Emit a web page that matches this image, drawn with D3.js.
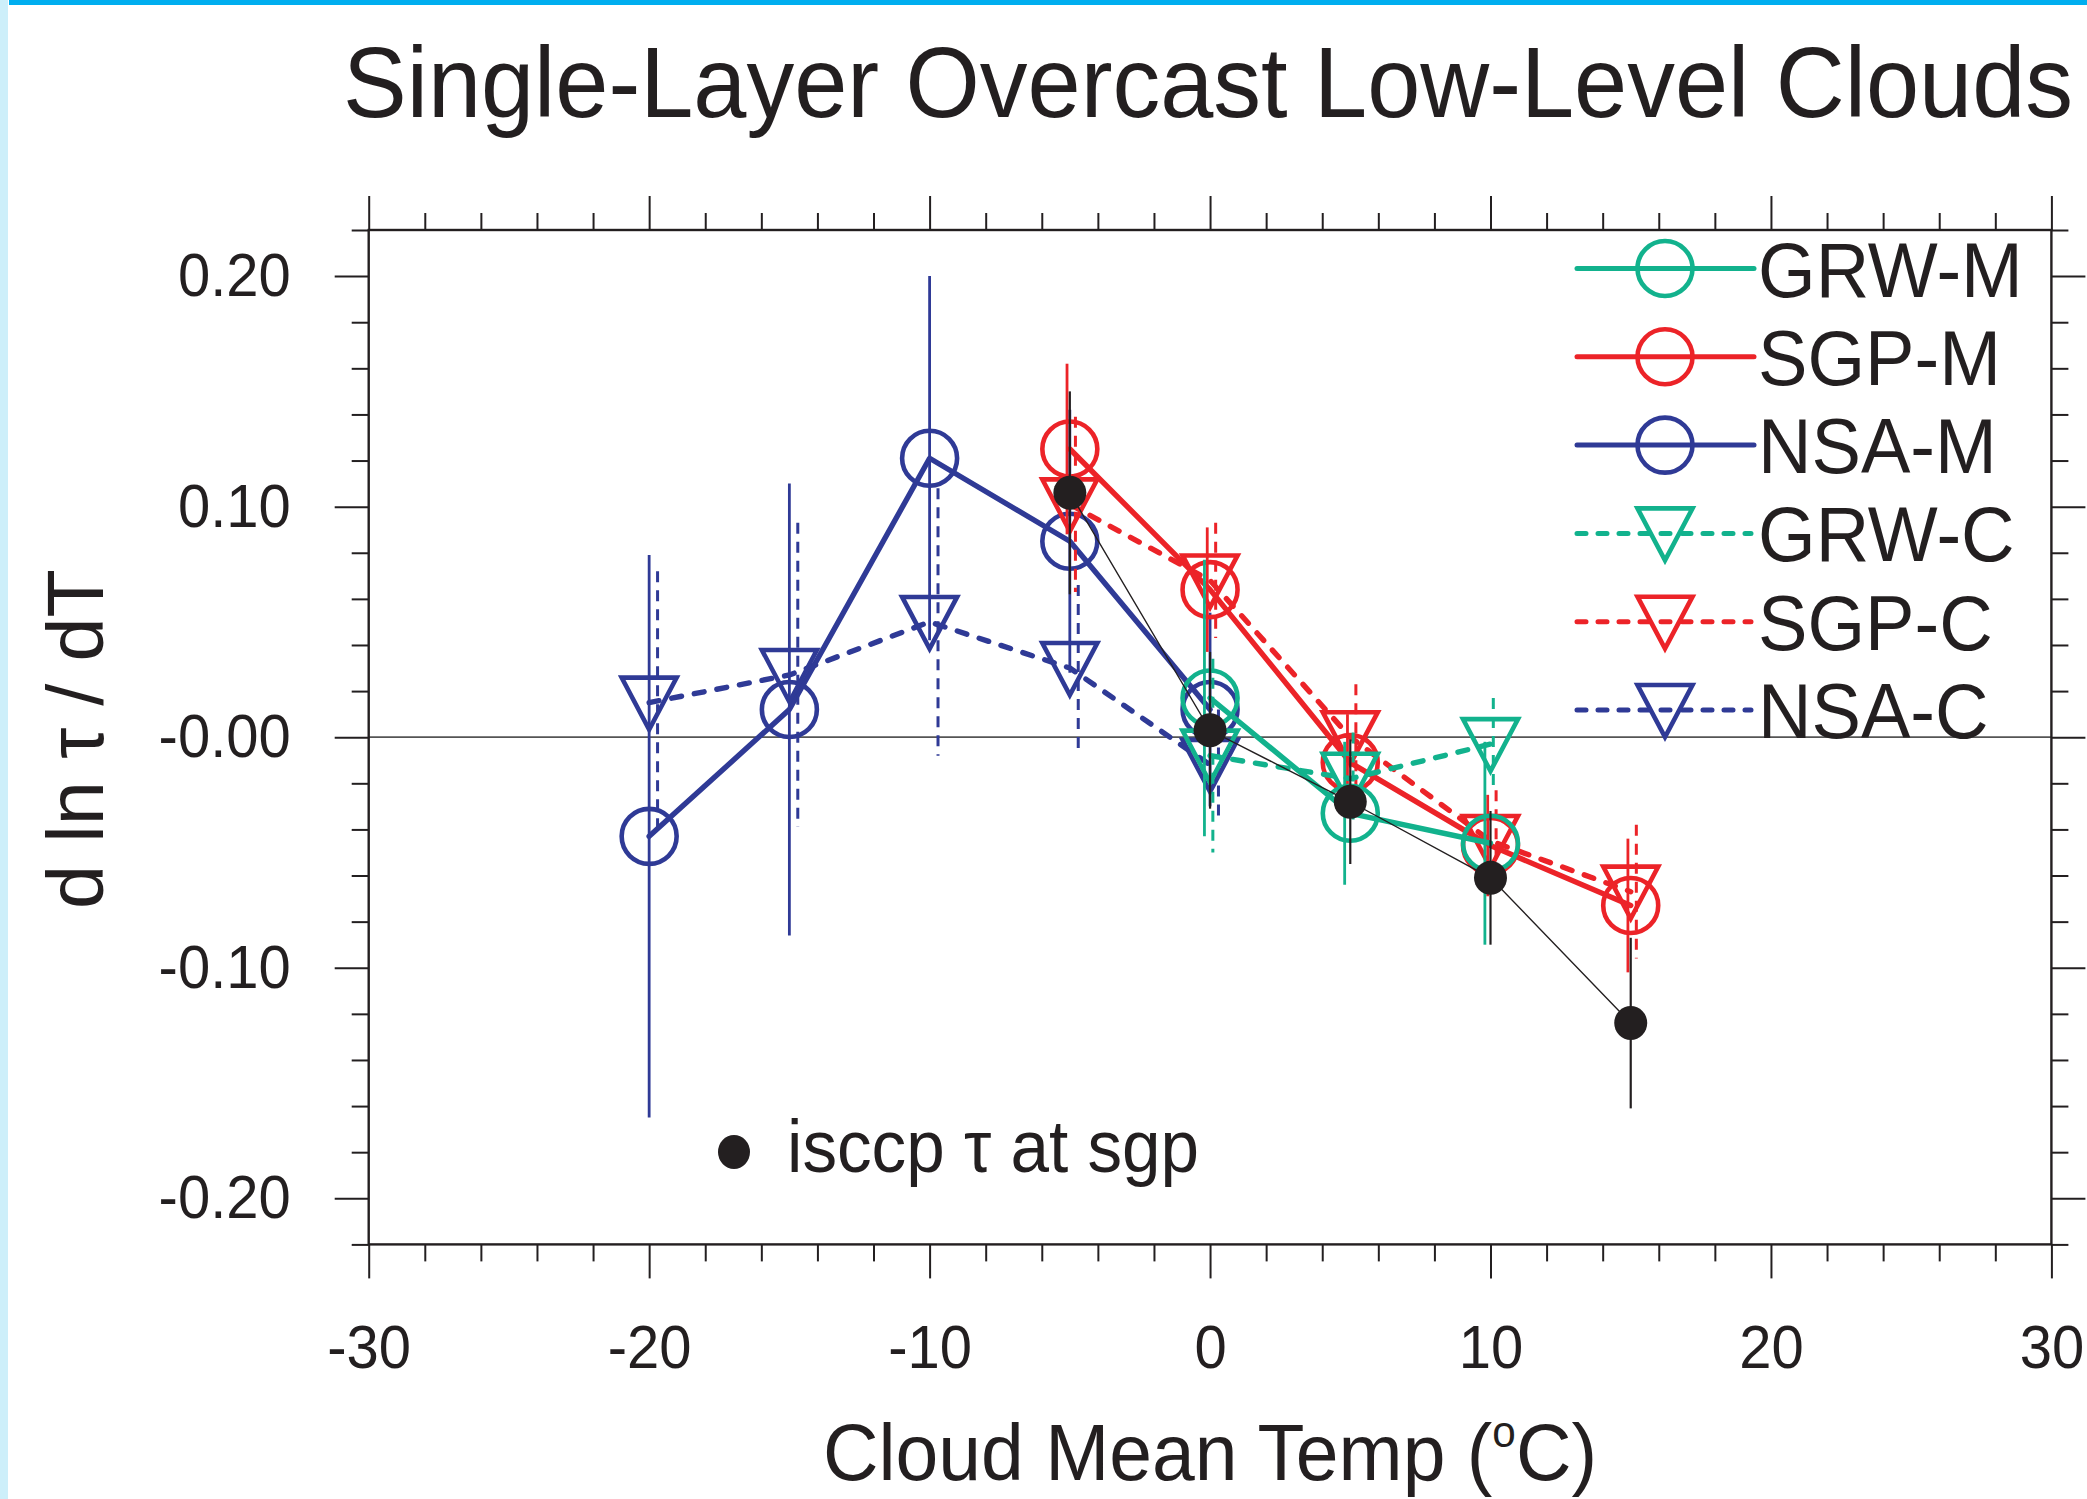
<!DOCTYPE html>
<html><head><meta charset="utf-8">
<script src="https://cdn.jsdelivr.net/npm/d3@7"></script>
<style>body{margin:0;background:#fff}svg{display:block}</style>
</head><body>
<script>
// ---------------- data ----------------
const xTickValues = [-30, -20, -10, 0, 10, 20, 30];
const xTickLabels = ["-30", "-20", "-10", "0", "10", "20", "30"];
const yTickValues = [0.2, 0.1, 0, -0.1, -0.2];
const yTickLabels = ["0.20", "0.10", "-0.00", "-0.10", "-0.20"];

const legendNames = ["GRW-M", "SGP-M", "NSA-M", "GRW-C", "SGP-C", "NSA-C"];

const nsaTemps = [-20, -15, -10, -5, 0];
const sgpTemps = [-5, 0, 5, 10, 15];
const grwTemps = [0, 5, 10];
const isccpTemps = [-5, 0, 5, 10, 15];

const nsaM = [-0.043, 0.012, 0.121, 0.085, 0.012];
const nsaMErr = [0.122, 0.098, 0.079, 0.057, 0.042];
const nsaC = [0.015, 0.027, 0.050, 0.030, -0.012];
const nsaCErr = [0.057, 0.066, 0.058, 0.036, 0.024];

const sgpM = [0.125, 0.064, -0.011, -0.047, -0.073];
const sgpMErr = [0.037, 0.027, 0.021, 0.022, 0.029];
const sgpC = [0.101, 0.068, 0.000, -0.045, -0.067];
const sgpCErr = [0.038, 0.025, 0.023, 0.022, 0.029];

const grwM = [0.017, -0.033, -0.046];
const grwMErr = [0.060, 0.031, 0.044];
const grwC = [-0.008, -0.018, -0.003];
const grwCErr = [0.042, 0.020, 0.020];

const isccp = [0.106, 0.003, -0.028, -0.061, -0.124];
const isccpErr = [0.044, 0.034, 0.027, 0.029, 0.037];

// error-bar x shift (°C) used to keep the bars apart
const errShift = {"GRW-M": -0.2, "SGP-M": -0.1, "NSA-M": 0, "GRW-C": 0.1, "SGP-C": 0.2, "NSA-C": 0.3, "isccp": 0};

// ---------------- styling ----------------
const W = 2087, H = 1499;
const INK = "#231F20";
const GREEN = "#12B28D", RED = "#EC2328", BLUE = "#2F3A96";
const FONT = "'Liberation Sans', Arial, Helvetica, sans-serif";
const SQ = 0.95;

const series = [
  {name: "NSA-M", x: nsaTemps, y: nsaM, e: nsaMErr, color: BLUE, dashed: false, marker: "circle"},
  {name: "NSA-C", x: nsaTemps, y: nsaC, e: nsaCErr, color: BLUE, dashed: true, marker: "tri"},
  {name: "SGP-M", x: sgpTemps, y: sgpM, e: sgpMErr, color: RED, dashed: false, marker: "circle"},
  {name: "SGP-C", x: sgpTemps, y: sgpC, e: sgpCErr, color: RED, dashed: true, marker: "tri"},
  {name: "GRW-M", x: grwTemps, y: grwM, e: grwMErr, color: GREEN, dashed: false, marker: "circle"},
  {name: "GRW-C", x: grwTemps, y: grwC, e: grwCErr, color: GREEN, dashed: true, marker: "tri"}
];
const styleByName = {};
series.forEach(s => styleByName[s.name] = s);

const svg = d3.select("body").append("svg").attr("width", W).attr("height", H);
svg.append("rect").attr("width", W).attr("height", H).attr("fill", "#fff");
svg.append("rect").attr("x", 0).attr("y", 0).attr("width", 8).attr("height", H).attr("fill", "#CDEFFA");
svg.append("rect").attr("x", 9).attr("y", 0).attr("width", W - 9).attr("height", 5).attr("fill", "#00AEEF");

const L = 368.7, R = 2051.4, T = 230, B = 1244.4;
const x = d3.scaleLinear().domain([-30, 30]).range([L, R]);
const y = d3.scaleLinear().domain([-0.22, 0.22]).range([B, T]);

function squeeze(sel, f) {
  sel.each(function () {
    const len = this.getComputedTextLength();
    d3.select(this).attr("textLength", len * f).attr("lengthAdjust", "spacingAndGlyphs");
  });
}

// ---------------- axes ----------------
const xMinor = d3.range(-30, 31, 2).filter(v => v % 10 !== 0);
const yAll = d3.range(-11, 12).map(i => +(i * 0.02).toFixed(2));
const yMinor = yAll.filter(v => Math.abs(Math.round(v * 100)) % 10 !== 0);

function styleAxis(g) {
  g.select(".domain").remove();
  g.selectAll(".tick line").attr("stroke", INK).attr("stroke-width", 2);
}

svg.append("g").attr("transform", `translate(0,${B})`)
  .call(d3.axisBottom(x).tickValues(xTickValues).tickSize(34).tickPadding(46)
    .tickFormat((d, i) => xTickLabels[i]))
  .call(styleAxis)
  .call(g => g.selectAll("text").attr("font-family", FONT).attr("font-size", 61).attr("fill", INK));
svg.append("g").attr("transform", `translate(0,${B})`)
  .call(d3.axisBottom(x).tickValues(xMinor).tickSize(17).tickFormat(""))
  .call(styleAxis);
svg.append("g").attr("transform", `translate(0,${T})`)
  .call(d3.axisTop(x).tickValues(xTickValues).tickSize(34).tickFormat(""))
  .call(styleAxis);
svg.append("g").attr("transform", `translate(0,${T})`)
  .call(d3.axisTop(x).tickValues(xMinor).tickSize(17).tickFormat(""))
  .call(styleAxis);

svg.append("g").attr("transform", `translate(${L},0)`)
  .call(d3.axisLeft(y).tickValues(yTickValues).tickSize(34).tickPadding(44)
    .tickFormat((d, i) => yTickLabels[i]))
  .call(styleAxis)
  .call(g => g.selectAll("text").attr("font-family", FONT).attr("font-size", 61).attr("fill", INK));
svg.append("g").attr("transform", `translate(${L},0)`)
  .call(d3.axisLeft(y).tickValues(yMinor).tickSize(17).tickFormat(""))
  .call(styleAxis);
svg.append("g").attr("transform", `translate(${R},0)`)
  .call(d3.axisRight(y).tickValues(yTickValues).tickSize(34).tickFormat(""))
  .call(styleAxis);
svg.append("g").attr("transform", `translate(${R},0)`)
  .call(d3.axisRight(y).tickValues(yMinor).tickSize(17).tickFormat(""))
  .call(styleAxis);

svg.selectAll(".tick text").call(squeeze, SQ);

// zero reference line
svg.append("line").attr("x1", L).attr("x2", R).attr("y1", y(0)).attr("y2", y(0))
  .attr("stroke", "#555").attr("stroke-width", 1.8);

// ---------------- data marks ----------------
const plot = svg.append("g");
const triPath = "M-27.5,-25L27.5,-25L0,27Z";

function drawMarker(g, type, color, cx, cy) {
  if (type === "circle") {
    g.append("circle").attr("cx", cx).attr("cy", cy).attr("r", 27.5)
      .attr("fill", "none").attr("stroke", color).attr("stroke-width", 4.6);
  } else {
    g.append("path").attr("d", triPath).attr("transform", `translate(${cx},${cy})`)
      .attr("fill", "none").attr("stroke", color).attr("stroke-width", 4.6)
      .attr("stroke-linejoin", "miter");
  }
}

const line = d3.line().x(d => x(d[0])).y(d => y(d[1]));

series.forEach(s => {
  const g = plot.append("g");
  const pts = s.x.map((t, i) => [t, s.y[i], s.e[i]]);
  // error bars
  g.selectAll(".eb").data(pts).enter().append("line")
    .attr("x1", d => x(d[0] + errShift[s.name])).attr("x2", d => x(d[0] + errShift[s.name]))
    .attr("y1", d => y(d[1] + d[2])).attr("y2", d => y(d[1] - d[2]))
    .attr("stroke", s.color).attr("stroke-width", s.dashed ? 3 : 2.8)
    .attr("stroke-dasharray", s.dashed ? "11,8" : null);
  // connecting line
  g.append("path").attr("d", line(pts)).attr("fill", "none")
    .attr("stroke", s.color).attr("stroke-width", 5.4)
    .attr("stroke-linecap", "round").attr("stroke-linejoin", "round")
    .attr("stroke-dasharray", s.dashed ? "10,13" : null);
  pts.forEach(d => drawMarker(g, s.marker, s.color, x(d[0]), y(d[1])));
});

// isccp
{
  const g = plot.append("g");
  const pts = isccpTemps.map((t, i) => [t, isccp[i], isccpErr[i]]);
  g.selectAll(".eb").data(pts).enter().append("line")
    .attr("x1", d => x(d[0] + errShift.isccp)).attr("x2", d => x(d[0] + errShift.isccp))
    .attr("y1", d => y(d[1] + d[2])).attr("y2", d => y(d[1] - d[2]))
    .attr("stroke", INK).attr("stroke-width", 2.2);
  g.append("path").attr("d", line(pts)).attr("fill", "none")
    .attr("stroke", INK).attr("stroke-width", 1.4);
  g.selectAll(".dot").data(pts).enter().append("ellipse")
    .attr("cx", d => x(d[0])).attr("cy", d => y(d[1])).attr("rx", 16.5).attr("ry", 17)
    .attr("fill", INK);
}

// frame
svg.append("rect").attr("x", L).attr("y", T).attr("width", R - L).attr("height", B - T)
  .attr("fill", "none").attr("stroke", INK).attr("stroke-width", 2.4);

// ---------------- legend ----------------
const leg = svg.append("g");
legendNames.forEach((nm, i) => {
  const s = styleByName[nm];
  const cy = 268.5 + i * 88.3;
  leg.append("line").attr("x1", 1577).attr("x2", s.dashed ? 1751 : 1754).attr("y1", cy).attr("y2", cy)
    .attr("stroke", s.color).attr("stroke-width", 5).attr("stroke-linecap", "round")
    .attr("stroke-dasharray", s.dashed ? "9,12" : null);
  drawMarker(leg, s.marker, s.color, 1665, cy);
  leg.append("text").attr("x", 1758).attr("y", cy + 28).text(nm)
    .attr("font-family", FONT).attr("font-size", 78).attr("fill", INK);
});
leg.selectAll("text").call(squeeze, SQ);

// isccp note
svg.append("ellipse").attr("cx", 734).attr("cy", 1152).attr("rx", 16).attr("ry", 17).attr("fill", INK);
svg.append("text").attr("x", 787).attr("y", 1172).text("isccp \u03C4 at sgp")
  .attr("font-family", FONT).attr("font-size", 74).attr("fill", INK)
  .attr("textLength", 412).attr("lengthAdjust", "spacingAndGlyphs");

// ---------------- titles ----------------
svg.append("text").attr("x", 1208).attr("y", 117).attr("text-anchor", "middle")
  .text("Single-Layer Overcast Low-Level Clouds")
  .attr("font-family", FONT).attr("font-size", 100).attr("fill", INK)
  .attr("textLength", 1730).attr("lengthAdjust", "spacingAndGlyphs");

const xl = svg.append("text").attr("x", 1210).attr("y", 1480).attr("text-anchor", "middle")
  .attr("font-family", FONT).attr("font-size", 80).attr("fill", INK);
xl.append("tspan").text("Cloud Mean Temp (");
xl.append("tspan").attr("font-size", 44).attr("dy", -33).text("o");
xl.append("tspan").attr("dy", 33).text("C)");
xl.attr("textLength", 774).attr("lengthAdjust", "spacingAndGlyphs");

svg.append("text").attr("transform", "translate(103,739) rotate(-90)").attr("text-anchor", "middle")
  .text("d ln \u03C4 / dT")
  .attr("font-family", FONT).attr("font-size", 80).attr("fill", INK)
  .attr("textLength", 340).attr("lengthAdjust", "spacingAndGlyphs");
</script>
</body></html>
